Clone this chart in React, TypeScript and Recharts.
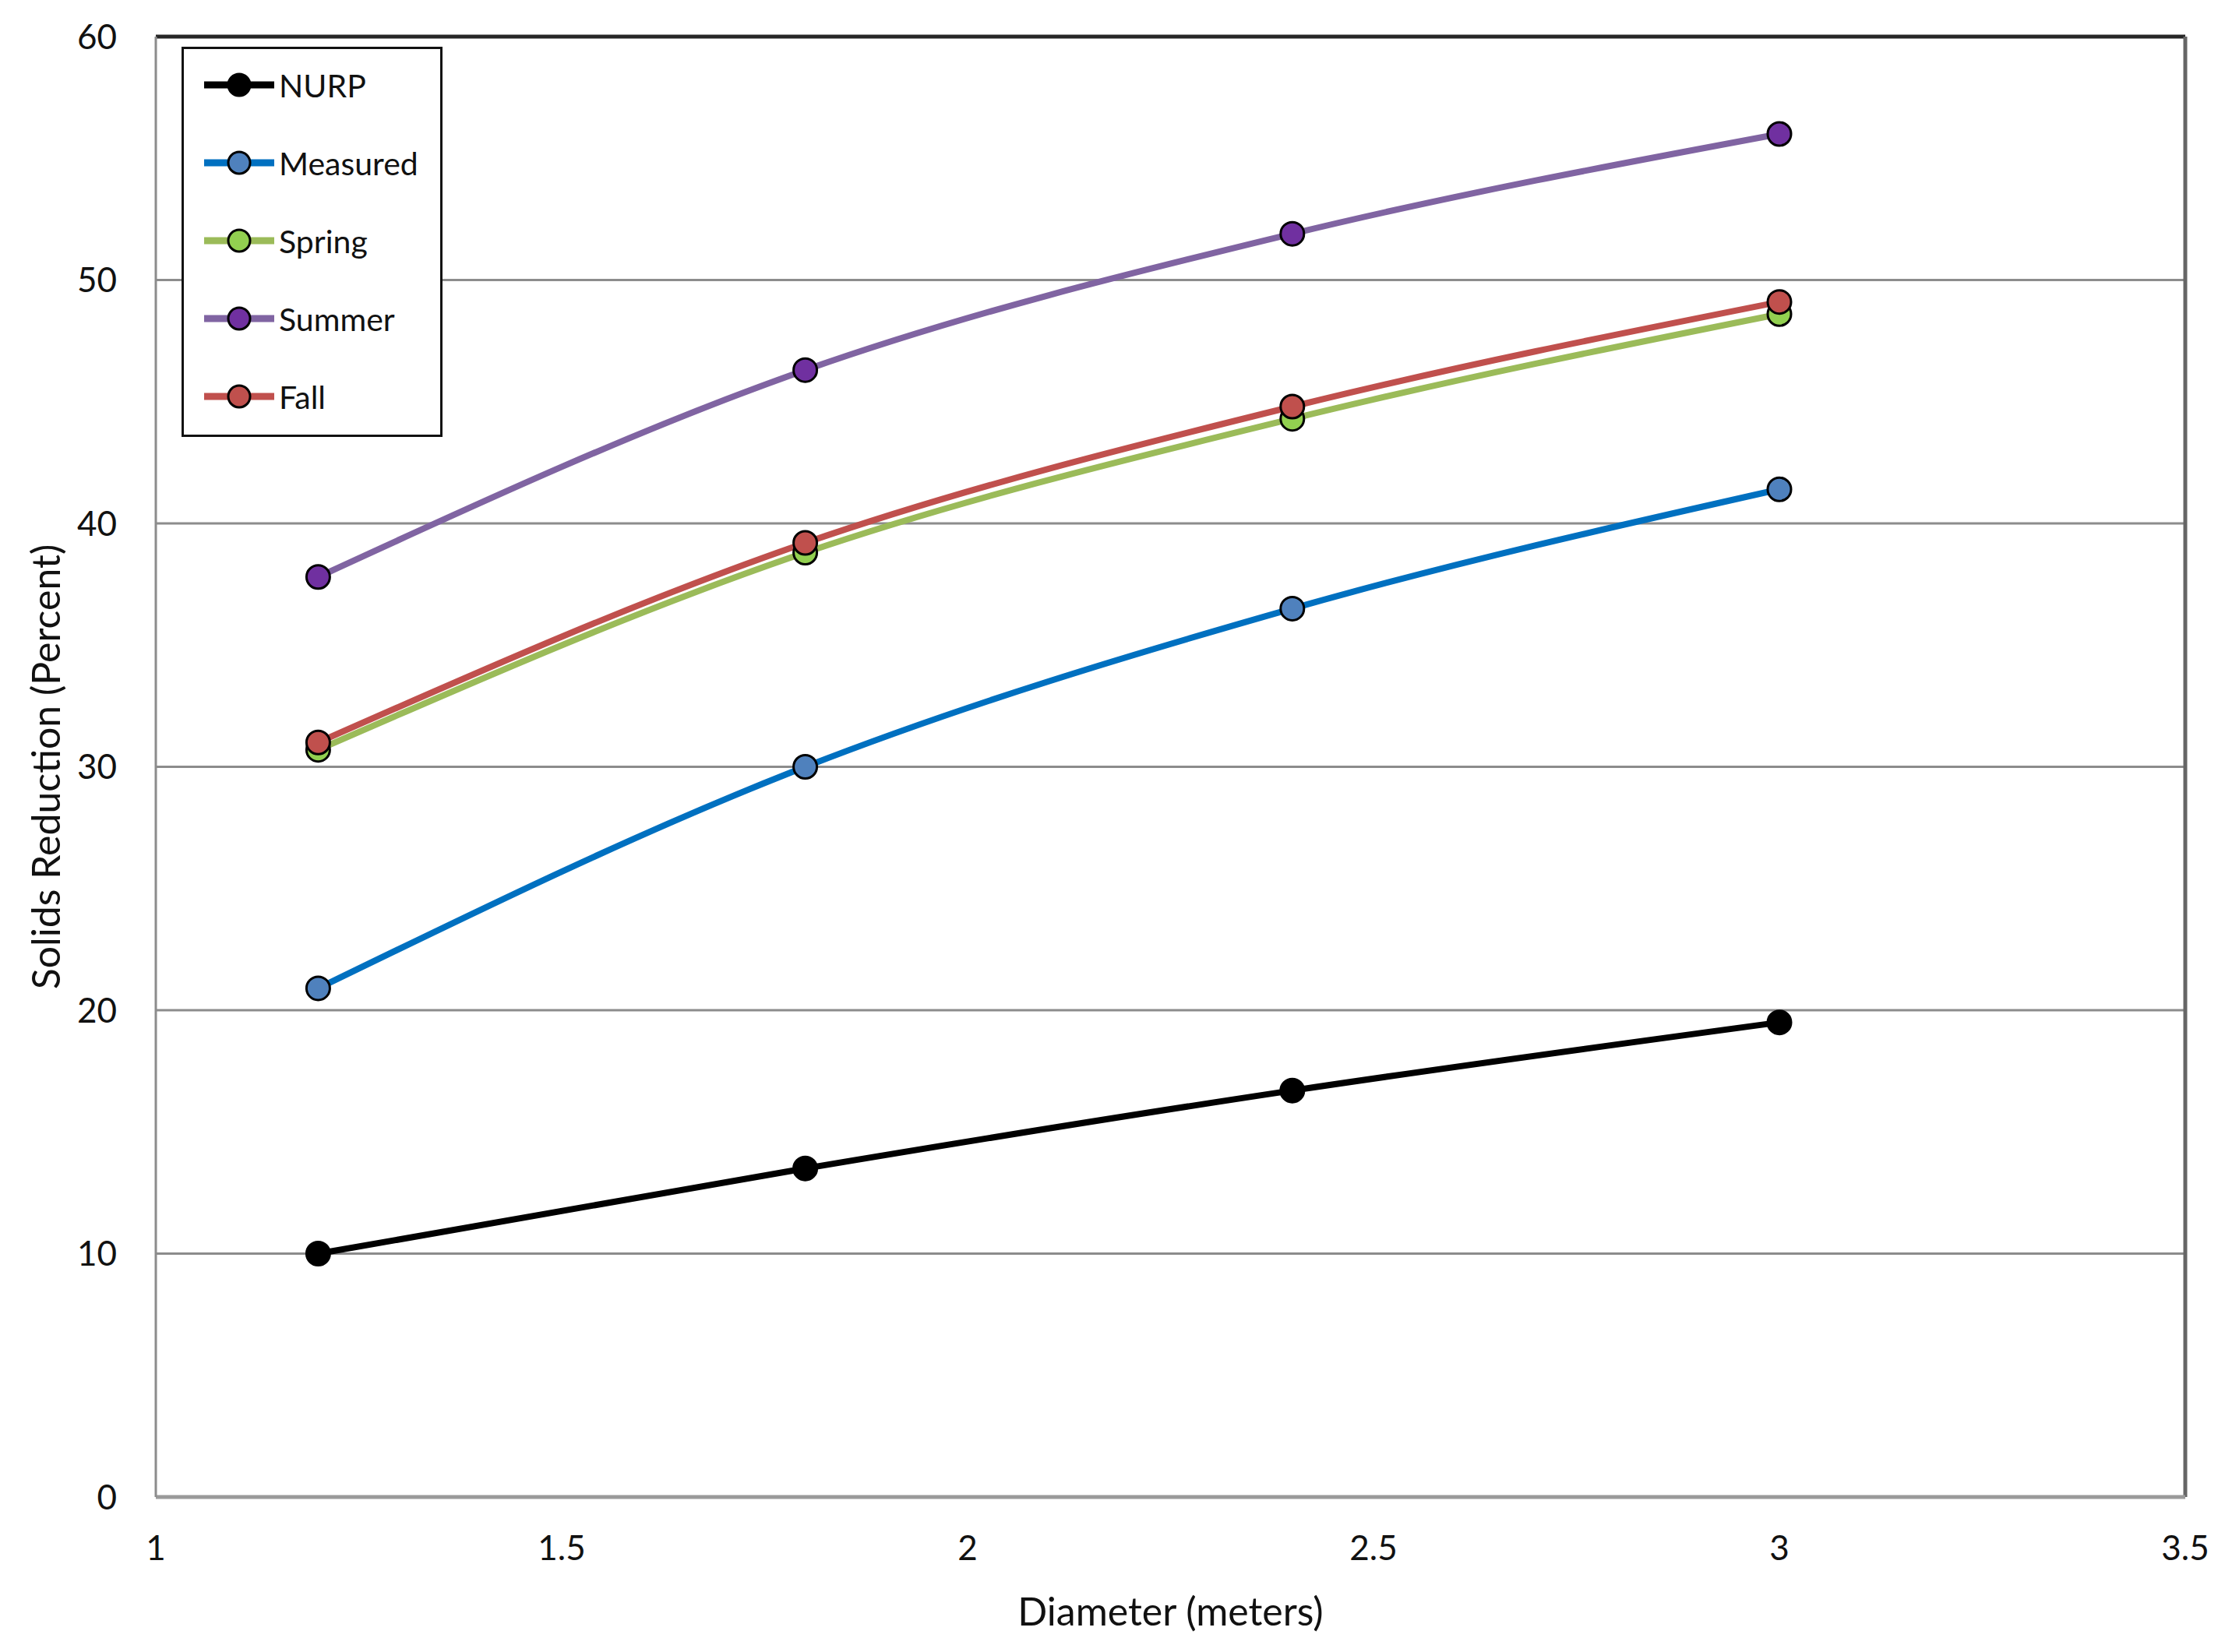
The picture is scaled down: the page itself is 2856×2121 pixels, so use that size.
import React from "react";
import {
  LineChart,
  Line,
  XAxis,
  YAxis,
  CartesianGrid,
  Legend,
  Label,
  ReferenceLine,
} from "recharts";

// diameters (m) on the x axis
const diameters = [1.2, 1.8, 2.4, 3.0];

const nurp = [10.0, 13.5, 16.7, 19.5];
const measured = [20.9, 30.0, 36.5, 41.4];
const spring = [30.7, 38.8, 44.3, 48.6];
const summer = [37.8, 46.3, 51.9, 56.0];
const fall = [31.0, 39.2, 44.8, 49.1];

const xTicks = [1, 1.5, 2, 2.5, 3, 3.5];
const yTicks = [0, 10, 20, 30, 40, 50, 60];

const series = [
  { key: "NURP", values: nurp, stroke: "#000000", fill: "#000000" },
  { key: "Measured", values: measured, stroke: "#0070c0", fill: "#4f81bd" },
  { key: "Spring", values: spring, stroke: "#9bbb59", fill: "#92d050" },
  { key: "Summer", values: summer, stroke: "#8064a2", fill: "#7030a0" },
  { key: "Fall", values: fall, stroke: "#c0504d", fill: "#c0504d" },
];

const data = diameters.map((d, i) => {
  const row: Record<string, number> = { d };
  series.forEach((s) => (row[s.key] = s.values[i]));
  return row;
});

const FONT = "Lato, 'Open Sans', sans-serif";

function LegendBox() {
  return (
    <div
      style={{
        width: 335,
        height: 501,
        boxSizing: "border-box",
        border: "3px solid #111",
        background: "#fff",
        fontFamily: FONT,
      }}
    >
      <div style={{ marginTop: -4 }}>
        {series.map((s) => (
          <div
            key={s.key}
            style={{ display: "flex", alignItems: "center", height: 100, paddingLeft: 24 }}
          >
            <svg width={94} height={40}>
              <line x1={2} y1={20} x2={92} y2={20} stroke={s.stroke} strokeWidth={9} />
              <circle cx={47} cy={20} r={14} fill={s.fill} stroke="#000" strokeWidth={3} />
            </svg>
            <span style={{ fontSize: 41, color: "#111", marginLeft: 4 }}>{s.key}</span>
          </div>
        ))}
      </div>
    </div>
  );
}

export default function App() {
  return (
    <div style={{ position: "absolute", left: 0, top: 0, background: "#fff" }}>
      <LineChart
        width={2856}
        height={2121}
        data={data}
        margin={{ top: 47, right: 51, left: 0, bottom: 0 }}
        style={{ fontFamily: FONT }}
      >
        <CartesianGrid horizontal vertical={false} stroke="#8c8c8c" strokeWidth={3} />
        <XAxis
          dataKey="d"
          type="number"
          domain={[1, 3.5]}
          ticks={xTicks}
          height={199}
          tickSize={0}
          tickMargin={50}
          tick={{ fontSize: 44, fill: "#111" }}
          axisLine={{ stroke: "#9a9a9a", strokeWidth: 5 }}
          tickLine={false}
        >
          <Label
            value="Diameter (meters)"
            position="insideBottom"
            offset={34}
            style={{ fontSize: 50, fill: "#111" }}
          />
        </XAxis>
        <YAxis
          type="number"
          domain={[0, 60]}
          ticks={yTicks}
          width={200}
          tickSize={0}
          tickMargin={50}
          tick={{ fontSize: 44, fill: "#111" }}
          axisLine={{ stroke: "#8c8c8c", strokeWidth: 3 }}
          tickLine={false}
        >
          <Label
            content={({ viewBox }: any) => (
              <text
                x={viewBox.x + 58}
                y={viewBox.y + viewBox.height / 2}
                transform={`rotate(-90, ${viewBox.x + 58}, ${viewBox.y + viewBox.height / 2})`}
                textAnchor="middle"
                dominantBaseline="central"
                style={{ fontSize: 50, fill: "#111", fontFamily: FONT }}
              >
                Solids Reduction (Percent)
              </text>
            )}
          />
        </YAxis>
        <ReferenceLine y={60} stroke="#262626" strokeWidth={5} />
        <ReferenceLine x={3.5} stroke="#666666" strokeWidth={5} />
        <Legend
          layout="vertical"
          align="center"
          verticalAlign="middle"
          wrapperStyle={{ left: 233, top: 60, width: 335, height: 501 }}
          content={() => <LegendBox />}
        />
        {series.map((s) => (
          <Line
            key={s.key}
            type="monotone"
            dataKey={s.key}
            name={s.key}
            stroke={s.stroke}
            strokeWidth={8}
            dot={{ r: 15, fill: s.fill, stroke: "#000", strokeWidth: 3 }}
            activeDot={false}
            isAnimationActive={false}
          />
        ))}
      </LineChart>
    </div>
  );
}
